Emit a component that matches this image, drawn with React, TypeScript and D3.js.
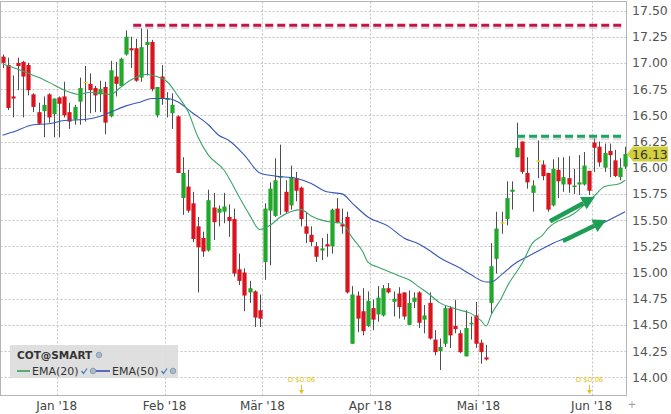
import React from "react";
import * as d3 from "d3";

// ---------- DATA ----------
const startDate = "2017-12-14";
const holidays = ["2017-12-25", "2018-01-01", "2018-01-15", "2018-02-19", "2018-03-30", "2018-05-28"];
const candleCount = 122;

const opens = [
  17.06, 16.98, 16.68, 17.0, 17.01, 16.98, 16.7, 16.53, 16.54, 16.7,
  16.51, 16.67, 16.68, 16.53, 16.46, 16.63, 16.82, 16.8, 16.76, 16.7,
  16.77, 16.49, 16.87, 16.78, 17.08, 17.14, 17.14, 16.86, 17.17, 17.2,
  16.5, 16.87, 16.65, 16.52, 16.49, 15.71, 15.82, 15.66, 15.44, 15.33,
  15.21, 15.62, 15.57, 15.58, 15.53, 15.51, 15.03, 15.0, 14.81, 14.82,
  14.64, 15.1, 15.59, 15.54, 15.91, 15.77, 15.64, 15.9, 15.81, 15.44,
  15.36, 15.25, 15.21, 15.27, 15.25, 15.61, 15.46, 15.53, 14.32, 14.78,
  14.63, 14.49, 14.66, 14.6, 14.59, 14.85, 14.72, 14.8, 14.81, 14.5,
  14.72, 14.81, 14.55, 14.71, 14.36, 14.25, 14.32, 14.66, 14.49, 14.42,
  14.2, 14.51, 14.59, 14.33, 14.19, 14.71, 15.13, 15.48, 15.51, 15.77,
  16.1, 16.25, 15.95, 15.76, 16.07, 16.03, 15.95, 15.64, 15.98, 15.84,
  15.9, 15.82, 15.84, 15.84, 15.97, 16.24, 16.2, 16.0, 16.16, 16.07,
  15.91, 16.01,
];
const highs = [
  17.08, 17.05, 16.88, 17.05, 17.02, 17.0, 16.71, 16.62, 16.68, 16.71,
  16.66, 16.68, 16.82, 16.62, 16.6, 16.86, 16.97, 16.9, 16.78, 16.83,
  16.82, 17.02, 17.01, 17.05, 17.31, 17.25, 17.23, 17.33, 17.32, 17.22,
  16.77, 16.98, 16.72, 16.71, 16.5, 16.1, 15.98, 15.77, 15.53, 15.39,
  15.79, 15.76, 15.64, 15.76, 15.65, 15.61, 15.18, 15.04, 14.92, 14.83,
  14.79, 15.66, 15.86, 16.09, 16.22, 15.88, 16.02, 15.96, 15.82, 15.57,
  15.44, 15.29, 15.33, 15.37, 15.61, 15.71, 15.61, 15.58, 14.87, 14.82,
  14.85, 14.82, 14.74, 14.87, 14.88, 14.9, 14.82, 14.86, 14.81, 14.83,
  14.81, 14.82, 14.69, 14.81, 14.45, 14.37, 14.68, 14.68, 14.74, 14.45,
  14.64, 14.58, 14.72, 14.36, 14.31, 15.28, 15.58, 15.58, 15.87, 15.87,
  16.43, 16.25, 16.1, 15.88, 16.26, 16.07, 15.95, 16.08, 16.1, 16.1,
  16.11, 15.99, 16.12, 16.15, 15.97, 16.28, 16.25, 16.23, 16.23, 16.17,
  16.09, 16.2,
];
const lows = [
  16.95, 16.55, 16.48, 16.74, 16.48, 16.69, 16.53, 16.41, 16.29, 16.43,
  16.29, 16.29, 16.48, 16.37, 16.41, 16.41, 16.44, 16.52, 16.53, 16.53,
  16.32, 16.48, 16.68, 16.77, 17.07, 16.95, 16.82, 16.82, 16.88, 16.73,
  16.48, 16.6, 16.48, 16.37, 15.95, 15.55, 15.57, 15.29, 14.81, 15.15,
  15.2, 15.31, 15.44, 15.47, 15.34, 14.96, 14.88, 14.63, 14.71, 14.48,
  14.48, 14.93, 15.07, 15.53, 15.55, 15.56, 15.6, 15.68, 15.44, 15.28,
  15.25, 15.1, 15.12, 15.15, 15.18, 15.47, 15.37, 14.8, 14.32, 14.43,
  14.4, 14.48, 14.45, 14.53, 14.58, 14.8, 14.58, 14.56, 14.55, 14.5,
  14.66, 14.47, 14.42, 14.36, 14.21, 14.07, 14.29, 14.28, 14.42, 14.23,
  14.2, 14.36, 14.28, 14.13, 14.16, 14.61, 14.99, 15.37, 15.45, 15.6,
  16.1, 15.94, 15.8, 15.58, 15.9, 15.88, 15.58, 15.63, 15.71, 15.77,
  15.76, 15.75, 15.74, 15.83, 15.74, 15.96, 16.01, 15.96, 15.91, 15.91,
  15.88, 15.99,
];
const closes = [
  17.0, 16.57, 16.66, 16.97, 16.87, 16.74, 16.58, 16.42, 16.6, 16.48,
  16.66, 16.61, 16.5, 16.44, 16.58, 16.76, 16.82, 16.74, 16.69, 16.75,
  16.43, 16.93, 16.8, 17.04, 17.25, 17.12, 16.83, 17.15, 17.2, 16.75,
  16.77, 16.66, 16.66, 16.6, 15.95, 15.95, 15.59, 15.32, 15.24, 15.2,
  15.69, 15.48, 15.61, 15.63, 15.49, 14.99, 14.92, 14.78, 14.85, 14.57,
  14.56, 15.61, 15.8, 15.88, 15.92, 15.58, 15.91, 15.78, 15.51, 15.37,
  15.29, 15.15, 15.23, 15.25, 15.6, 15.48, 15.44, 14.81, 14.79, 14.56,
  14.44, 14.73, 14.55, 14.76, 14.85, 14.81, 14.75, 14.67, 14.58, 14.71,
  14.76, 14.52, 14.59, 14.37, 14.24, 14.29, 14.66, 14.4, 14.46, 14.24,
  14.47, 14.52, 14.32, 14.24, 14.17, 15.06, 15.42, 15.48, 15.71, 15.79,
  16.19, 15.96, 15.86, 15.83, 16.07, 15.92, 15.6, 15.99, 15.87, 15.91,
  15.84, 15.83, 15.86, 16.02, 15.78, 16.19, 16.05, 16.14, 16.12, 15.92,
  16.0, 16.13,
];

// EMA lines: [candle index, value]
const ema20Points: [number, number][] = [
  [0, 16.99], [3, 16.94], [6, 16.88], [8, 16.84], [10, 16.79], [12, 16.74], [15, 16.7], [17, 16.72],
  [19, 16.71], [21, 16.7], [23, 16.77], [25, 16.84], [28, 16.89], [30, 16.87], [32, 16.82], [34, 16.69],
  [36, 16.54], [38, 16.29], [40, 16.12], [43, 15.98], [46, 15.72], [48, 15.55], [50, 15.41], [52, 15.45],
  [54, 15.53], [56, 15.58], [58, 15.6], [60, 15.54], [62, 15.5], [64, 15.48], [66, 15.47], [68, 15.33],
  [70, 15.2], [71, 15.1], [73, 15.05], [75, 15.01], [77, 14.97], [79, 14.93], [81, 14.86], [83, 14.79],
  [85, 14.71], [87, 14.67], [89, 14.64], [91, 14.61], [93, 14.54], [94, 14.49], [95, 14.6], [97, 14.76],
  [98, 14.86], [101, 15.09], [103, 15.28], [105, 15.36], [106, 15.42], [111, 15.56], [115, 15.73],
  [117, 15.82], [120, 15.85], [121, 15.88],
];
const ema50Points: [number, number][] = [
  [0, 16.31], [2, 16.34], [6, 16.41], [9, 16.42], [12, 16.45], [16, 16.46], [19, 16.49], [21, 16.53],
  [24, 16.59], [27, 16.63], [29, 16.66], [32, 16.66], [34, 16.63], [37, 16.52], [40, 16.41], [42, 16.31],
  [44, 16.26], [47, 16.12], [50, 15.95], [53, 15.92], [57, 15.9], [60, 15.85], [63, 15.77], [66, 15.75],
  [68, 15.66], [71, 15.53], [75, 15.44], [78, 15.33], [81, 15.27], [83, 15.21], [85, 15.14], [89, 15.04],
  [91, 14.98], [94, 14.91], [95, 14.91], [97, 14.98], [100, 15.1], [102, 15.15], [107, 15.28], [114, 15.41],
  [117, 15.48], [121, 15.58],
];

const yTicks = [14, 14.25, 14.5, 14.75, 15, 15.25, 15.5, 15.75, 16, 16.25, 16.5, 16.75, 17, 17.25, 17.5];
const monthLabels = ["Jan '18", "Feb '18", "Mär '18", "Apr '18", "Mai '18", "Jun '18"];
const lastPrice = 16.13;

// annotations
const resistanceRed = { price: 17.36, from: 25.4, to: 120.5 };
const resistanceGreen = { price: 16.3, from: 100, to: 121 };
const trendArrows = [
  { i0: 106.4, p0: 15.49, i1: 115.1, p1: 15.72 },
  { i0: 108.9, p0: 15.3, i1: 117.3, p1: 15.5 },
];
const dividendDates = ["2018-03-12", "2018-05-31"];
const dividendLabel = "D $0.06";

// ---------- helpers ----------
function buildDates(): string[] {
  const out: string[] = [];
  const d = new Date(startDate + "T00:00:00Z");
  while (out.length < candleCount) {
    const s = d.toISOString().slice(0, 10);
    const wd = d.getUTCDay();
    if (wd !== 0 && wd !== 6 && !holidays.includes(s)) out.push(s);
    d.setUTCDate(d.getUTCDate() + 1);
  }
  return out;
}

const FONT = "'DejaVu Sans', Verdana, sans-serif";

export default function App() {
  const dates = buildDates();
  const left = 0.5, right = 626.5, top = 1.5, bottom = 395.5;
  const step = 5.145;
  const x = d3.scaleLinear().domain([0, candleCount - 1]).range([2.57, 2.57 + step * (candleCount - 1)]);
  const y = d3.scaleLinear().domain([14, 17.5]).range([377.3, 10.5]);

  const monthBreaks: number[] = [];
  for (let i = 1; i < dates.length; i++) {
    if (dates[i].slice(5, 7) !== dates[i - 1].slice(5, 7)) monthBreaks.push(i - 0.5);
  }

  const lineGen = d3
    .line<[number, number]>()
    .x((d) => x(d[0]))
    .y((d) => y(d[1]))
    .curve(d3.curveMonotoneX);

  const bodyW = 4.2;
  const red = "#d9141e";
  const green = "#1fa82a";
  const doji = "#e8d21a";

  const arrowEls = trendArrows.map((a, k) => {
    const x0 = x(a.i0), y0 = y(a.p0), x1 = x(a.i1), y1 = y(a.p1);
    const ang = Math.atan2(y1 - y0, x1 - x0);
    const hl = 13, hw = 7;
    const bx = x1 - hl * Math.cos(ang), by = y1 - hl * Math.sin(ang);
    const px = -Math.sin(ang), py = Math.cos(ang);
    const pts = [
      [x1, y1],
      [bx + px * hw, by + py * hw],
      [bx - px * hw, by - py * hw],
    ];
    return (
      <g key={"arr" + k}>
        <line x1={x0} y1={y0} x2={bx} y2={by} stroke="#1e9e55" strokeWidth={4.5} />
        <polygon points={pts.map((p) => p.join(",")).join(" ")} fill="#1e9e55" />
      </g>
    );
  });

  return (
    <svg
      width={671}
      height={414}
      style={{ position: "absolute", left: 0, top: 0, background: "#fff" }}
      fontFamily={FONT}
    >
      {/* grid */}
      {yTicks.map((t) => (
        <line key={"hg" + t} x1={left} x2={right} y1={Math.round(y(t)) + 0.5} y2={Math.round(y(t)) + 0.5}
          stroke="#c2c2c2" strokeDasharray="2,2" strokeWidth={1} />
      ))}
      {monthBreaks.map((b) => (
        <line key={"vg" + b} x1={Math.round(x(b)) + 0.5} x2={Math.round(x(b)) + 0.5} y1={top} y2={bottom}
          stroke="#c2c2c2" strokeDasharray="2,2" strokeWidth={1} />
      ))}
      {/* frame */}
      <rect x={left} y={top} width={right - left} height={bottom - top} fill="none" stroke="#b5b5b5" strokeWidth={1} />

      {/* red resistance */}
      <line x1={x(resistanceRed.from)} x2={x(resistanceRed.to)} y1={y(resistanceRed.price) + 2.5} y2={y(resistanceRed.price) + 2.5}
        stroke="#999" strokeOpacity={0.35} strokeWidth={3} strokeDasharray="8,4" />
      <line x1={x(resistanceRed.from)} x2={x(resistanceRed.to)} y1={y(resistanceRed.price)} y2={y(resistanceRed.price)}
        stroke="#c8124a" strokeWidth={3} strokeDasharray="8,4" />

      {/* candles */}
      {dates.map((d, i) => {
        const o = opens[i], c = closes[i], h = highs[i], l = lows[i];
        const cx = Math.round(x(i)) + 0.5;
        const col = o === c ? doji : c > o ? green : red;
        const yt = y(Math.max(o, c)), yb = y(Math.min(o, c));
        return (
          <g key={d}>
            <line x1={cx} x2={cx} y1={y(h)} y2={y(l)} stroke="#4d4d4d" strokeWidth={1} />
            <rect x={cx - bodyW / 2} y={yt} width={bodyW} height={Math.max(1.5, yb - yt)} fill={col} />
          </g>
        );
      })}

      {/* EMA lines */}
      <path d={lineGen(ema50Points) || ""} fill="none" stroke="#3656b8" strokeWidth={1.1} />
      <path d={lineGen(ema20Points) || ""} fill="none" stroke="#3aa56a" strokeWidth={1.1} />

      {/* green resistance */}
      <line x1={x(resistanceGreen.from)} x2={x(resistanceGreen.to)} y1={y(resistanceGreen.price) + 2.5} y2={y(resistanceGreen.price) + 2.5}
        stroke="#999" strokeOpacity={0.3} strokeWidth={3} strokeDasharray="8,4" />
      <line x1={x(resistanceGreen.from)} x2={x(resistanceGreen.to)} y1={y(resistanceGreen.price)} y2={y(resistanceGreen.price)}
        stroke="#1ea462" strokeWidth={3} strokeDasharray="8,4" />

      {arrowEls}

      {/* dividends */}
      {dividendDates.map((dd) => {
        const i = dates.indexOf(dd);
        const cx = Math.round(x(i)) + 0.5;
        return (
          <g key={dd}>
            <text x={cx} y={382} fontSize={7} fill="#e6c21a" textAnchor="middle">{dividendLabel}</text>
            <line x1={cx} x2={cx} y1={385} y2={391} stroke="#e6c21a" strokeWidth={1} />
            <polygon points={`${cx - 2.5},390 ${cx + 2.5},390 ${cx},394`} fill="#e6c21a" />
          </g>
        );
      })}

      {/* right axis labels */}
      {yTicks.map((t) => (
        <text key={"yl" + t} x={632} y={y(t)} dy="0.36em" fontSize={12.5} fill="#555">
          {t.toFixed(2)}
        </text>
      ))}

      {/* last price tag */}
      <polygon
        points={`627,${y(lastPrice)} 633,${y(lastPrice) - 7.5} 668,${y(lastPrice) - 7.5} 668,${y(lastPrice) + 7.5} 633,${y(lastPrice) + 7.5}`}
        fill="#d2d03e"
      />
      <text x={632} y={y(lastPrice)} dy="0.36em" fontSize={12.5} fill="#333">{lastPrice.toFixed(2)}</text>

      {/* x axis labels */}
      {monthBreaks.map((b, k) => (
        <text key={"xl" + b} x={x(b)} y={410} fontSize={12} fill="#444" textAnchor="middle">
          {monthLabels[k]}
        </text>
      ))}
      <text x={632} y={408} fontSize={10} fill="#999" textAnchor="middle">+</text>

      {/* legend */}
      <rect x={10} y={345} width={168} height={33} fill="#dcdcdc" fillOpacity={0.92} />
      <text x={17} y={359} fontSize={10.5} fontWeight="bold" fill="#333">COT@SMART</text>
      <circle cx={99} cy={355} r={2.8} fill="#a9b9c9" stroke="#7f97ad" strokeWidth={0.8} />
      <line x1={17} x2={30} y1={371} y2={371} stroke="#2e9b4a" strokeWidth={1.5} />
      <text x={32} y={375} fontSize={11} fill="#333">EMA(20)</text>
      <path d="M81.5,371 l2,2.5 l3.5,-5" fill="none" stroke="#3d7fc4" strokeWidth={1.3} />
      <circle cx={93} cy={371} r={2.8} fill="#a9b9c9" stroke="#7f97ad" strokeWidth={0.8} />
      <line x1={96} x2={110} y1={371} y2={371} stroke="#2a44b0" strokeWidth={1.5} />
      <text x={112} y={375} fontSize={11} fill="#333">EMA(50)</text>
      <path d="M161.5,371 l2,2.5 l3.5,-5" fill="none" stroke="#3d7fc4" strokeWidth={1.3} />
      <circle cx={173} cy={371} r={2.8} fill="#a9b9c9" stroke="#7f97ad" strokeWidth={0.8} />
    </svg>
  );
}
